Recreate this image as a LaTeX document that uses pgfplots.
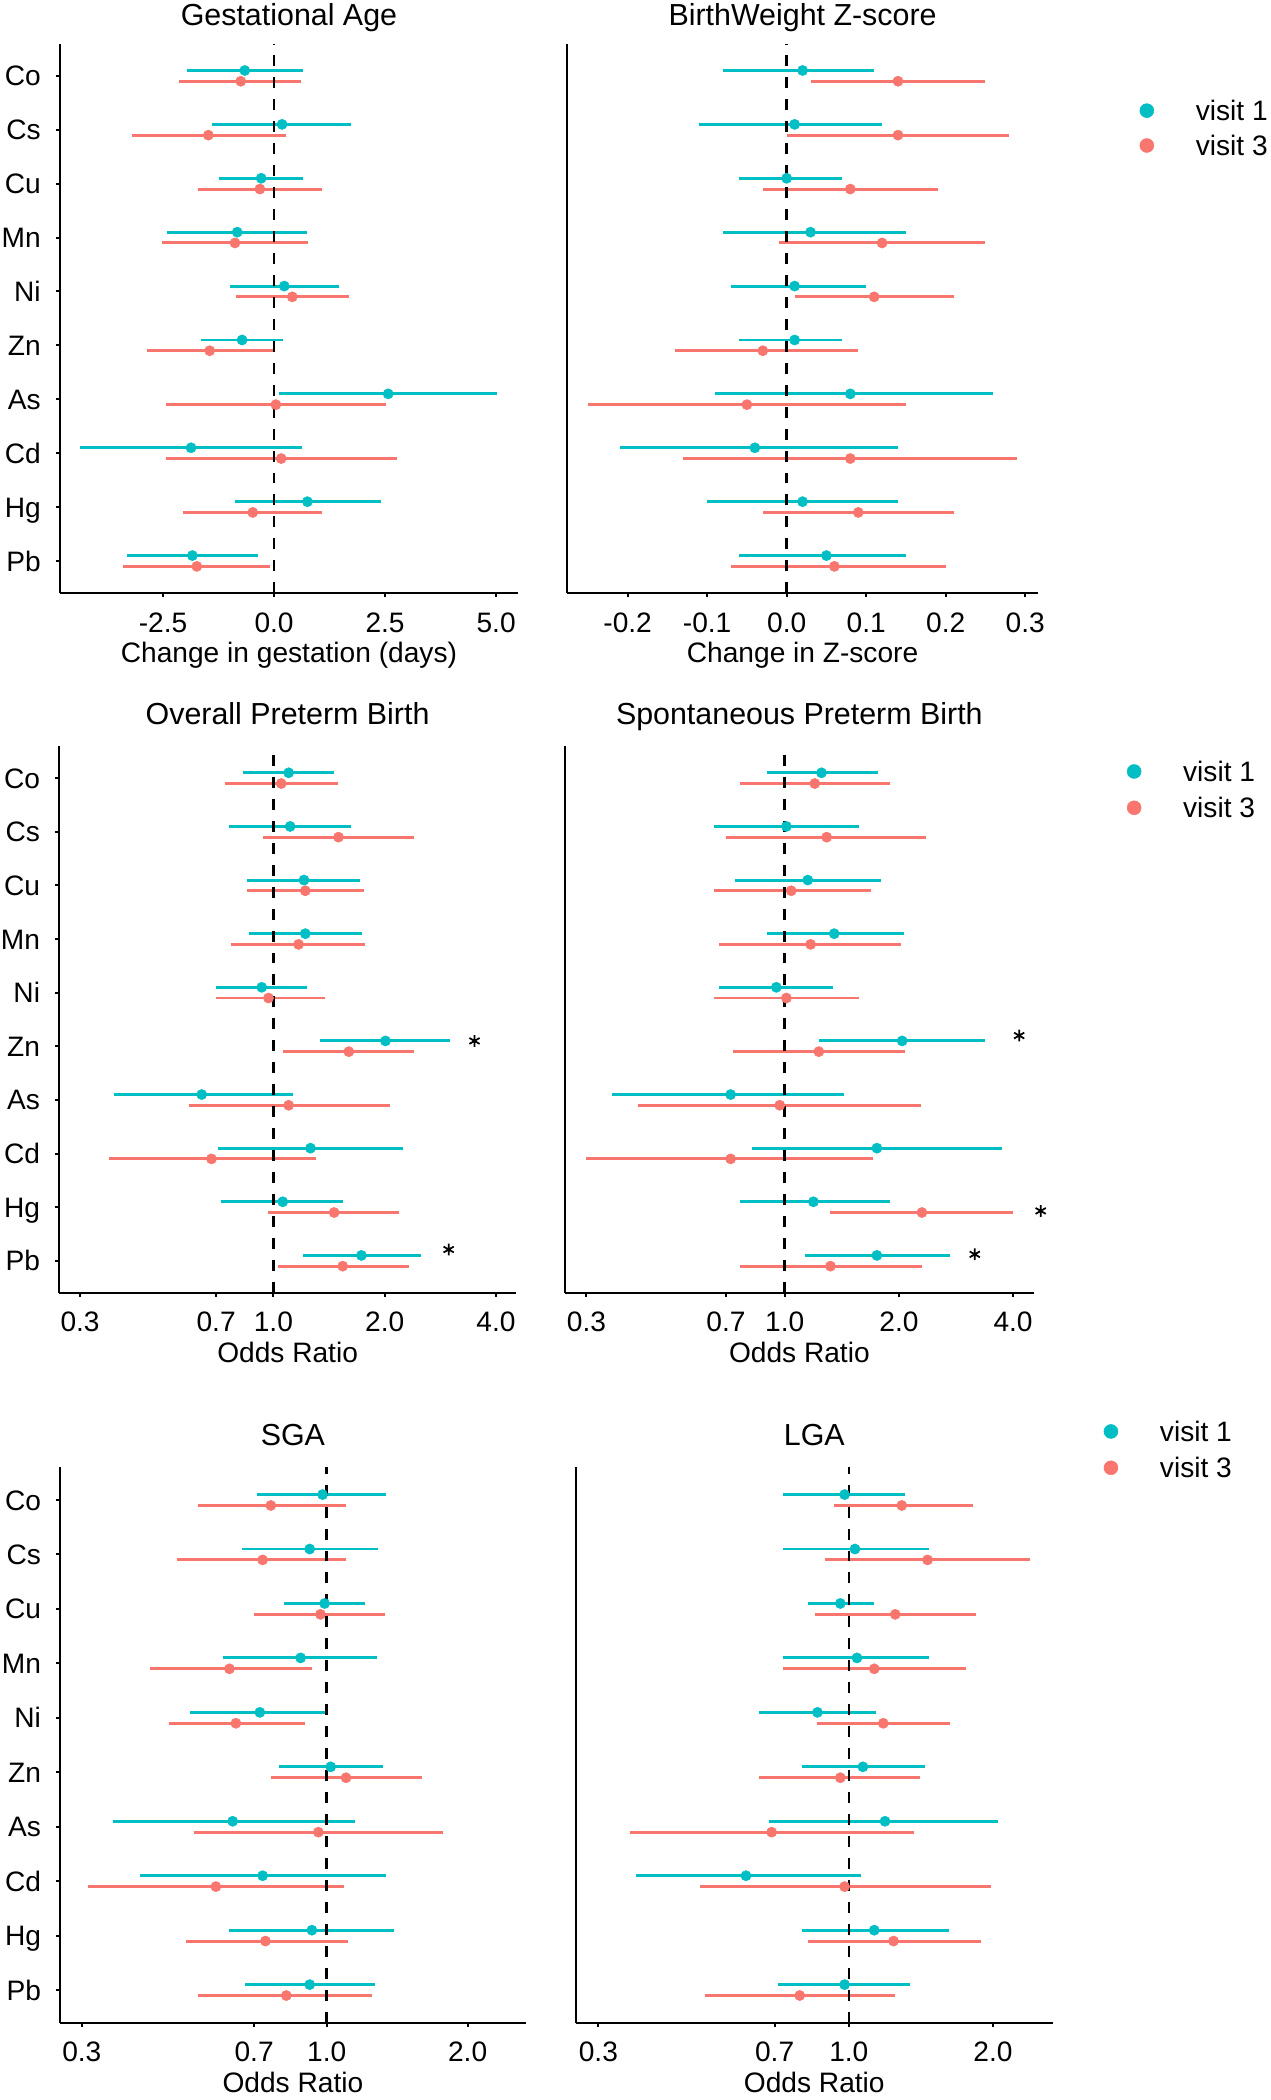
\documentclass[border=0pt]{standalone}
\usepackage{pgfplots}
\pgfplotsset{compat=1.18}
\usepackage{pgfplotstable}
\usepackage{fontspec}
\setmainfont{Liberation Sans}
\definecolor{cone}{HTML}{00BFC4}
\definecolor{cthree}{HTML}{F8766D}

% columns: row v1 v1lo v1hi v3 v3lo v3hi   (row 10 = Co ... row 1 = Pb)
\pgfplotstableread{
row v1 v1lo v1hi v3 v3lo v3hi
10 -0.66 -1.97 0.65 -0.75 -2.14 0.61
9 0.18 -1.40 1.73 -1.48 -3.20 0.26
8 -0.29 -1.24 0.65 -0.32 -1.72 1.09
7 -0.83 -2.41 0.75 -0.88 -2.53 0.76
6 0.23 -1.00 1.46 0.41 -0.86 1.69
5 -0.72 -1.64 0.19 -1.45 -2.86 0.02
4 2.57 0.11 5.03 0.04 -2.44 2.51
3 -1.87 -4.36 0.64 0.16 -2.43 2.76
2 0.75 -0.89 2.40 -0.48 -2.05 1.07
1 -1.84 -3.32 -0.37 -1.74 -3.40 -0.10
}\tabGA
\pgfplotstableread{
row v1 v1lo v1hi v3 v3lo v3hi
10 0.02 -0.08 0.11 0.14 0.03 0.25
9 0.01 -0.11 0.12 0.14 0.00 0.28
8 0.00 -0.06 0.07 0.08 -0.03 0.19
7 0.03 -0.08 0.15 0.12 -0.01 0.25
6 0.01 -0.07 0.10 0.11 0.01 0.21
5 0.01 -0.06 0.07 -0.03 -0.14 0.09
4 0.08 -0.09 0.26 -0.05 -0.25 0.15
3 -0.04 -0.21 0.14 0.08 -0.13 0.29
2 0.02 -0.10 0.14 0.09 -0.03 0.21
1 0.05 -0.06 0.15 0.06 -0.07 0.20
}\tabBW
\pgfplotstableread{
row v1 v1lo v1hi v3 v3lo v3hi
10 1.10 0.83 1.46 1.05 0.74 1.50
9 1.11 0.76 1.62 1.50 0.94 2.40
8 1.21 0.85 1.72 1.22 0.85 1.76
7 1.22 0.86 1.74 1.17 0.77 1.77
6 0.93 0.70 1.23 0.97 0.70 1.38
5 2.01 1.34 3.00 1.60 1.06 2.40
4 0.64 0.37 1.13 1.10 0.59 2.07
3 1.26 0.71 2.24 0.68 0.36 1.30
2 1.06 0.72 1.54 1.46 0.97 2.19
1 1.73 1.20 2.50 1.54 1.03 2.32
}\tabPTB
\pgfplotstableread{
row v1 v1lo v1hi v3 v3lo v3hi
10 1.25 0.90 1.76 1.20 0.76 1.90
9 1.01 0.65 1.57 1.29 0.70 2.36
8 1.15 0.74 1.79 1.04 0.65 1.69
7 1.35 0.90 2.06 1.17 0.67 2.02
6 0.95 0.67 1.34 1.01 0.65 1.57
5 2.04 1.23 3.38 1.23 0.73 2.08
4 0.72 0.35 1.43 0.97 0.41 2.29
3 1.75 0.82 3.75 0.72 0.30 1.71
2 1.19 0.76 1.89 2.30 1.32 4.01
1 1.75 1.13 2.72 1.32 0.76 2.30
}\tabSPTB
\pgfplotstableread{
row v1 v1lo v1hi v3 v3lo v3hi
10 0.98 0.71 1.34 0.76 0.53 1.10
9 0.92 0.66 1.29 0.73 0.48 1.10
8 0.99 0.81 1.21 0.97 0.70 1.33
7 0.88 0.60 1.28 0.62 0.42 0.93
6 0.72 0.51 1.00 0.64 0.46 0.90
5 1.02 0.79 1.32 1.10 0.76 1.60
4 0.63 0.35 1.15 0.96 0.52 1.77
3 0.73 0.40 1.34 0.58 0.31 1.09
2 0.93 0.62 1.39 0.74 0.50 1.11
1 0.92 0.67 1.27 0.82 0.53 1.25
}\tabSGA
\pgfplotstableread{
row v1 v1lo v1hi v3 v3lo v3hi
10 0.98 0.73 1.31 1.29 0.93 1.82
9 1.03 0.73 1.47 1.46 0.89 2.39
8 0.96 0.82 1.13 1.25 0.85 1.84
7 1.04 0.73 1.47 1.13 0.73 1.76
6 0.86 0.65 1.14 1.18 0.86 1.63
5 1.07 0.80 1.44 0.96 0.65 1.41
4 1.19 0.68 2.05 0.69 0.35 1.37
3 0.61 0.36 1.06 0.98 0.49 1.98
2 1.13 0.80 1.62 1.24 0.82 1.89
1 0.98 0.71 1.34 0.79 0.50 1.25
}\tabLGA
% significance stars: x (odds ratio), y (row position)
\pgfplotstableread{
x y
3.50 5.10
2.98 1.21
}\starPTB
\pgfplotstableread{
x y
4.15 5.20
4.73 1.93
3.17 1.12
}\starSPTB

\newcommand{\fticks}{\fontsize{21}{25}\selectfont}
\newcommand{\ftitle}{\fontsize{22.7}{27}\selectfont}

\pgfplotsset{
  forest/.style={
    scale only axis, clip=false,
    axis x line*=bottom, axis y line*=left,
    axis line style={line width=1.5pt, black, -},
    every tick/.style={line width=1.5pt, black},
    tick align=outside, major tick length=3pt,
    ymin=0.4, ymax=10.6, ytick={1,...,10},
    yticklabels={Pb,Hg,Cd,As,Zn,Ni,Mn,Cu,Cs,Co},
    tick label style={font=\fticks, inner sep=0pt},
    xticklabel style={anchor=base, yshift=-26.1pt},
    yticklabel style={anchor=base east, xshift=-10.9pt, yshift=-7.5pt},
    label style={font=\fticks, inner sep=0pt},
    xlabel style={at={(0.5,0)}, anchor=base, yshift=-51.8pt},
    every axis title/.style={font=\ftitle, inner sep=0pt, at={(0.5,1)}, anchor=base, yshift=16pt},
    error bars/x dir=both, error bars/x explicit,
    error bars/error mark=none,
    error bars/error bar style={line width=2.2pt, solid},
  },
  noy/.style={ytick=\empty, yticklabels={}},
  vleg/.style={
    legend style={draw=none, fill=none, inner sep=0pt, outer sep=0pt,
      row sep=10.4pt, anchor=north west,
      /tikz/every odd column/.append style={column sep=31.2pt},
      nodes={inner sep=0pt, anchor=base west, font=\fticks}},
    legend cell align=left,
  },
}
\newcommand{\linseries}[1]{%
  \addplot[forget plot, cthree, only marks, mark=*, mark size=3.8pt]
    table[x=v3, y expr=\thisrow{row}-0.1,
      x error plus expr=\thisrow{v3hi}-\thisrow{v3},
      x error minus expr=\thisrow{v3}-\thisrow{v3lo}] {#1};
  \addplot[forget plot, cone, only marks, mark=*, mark size=3.8pt]
    table[x=v1, y expr=\thisrow{row}+0.1,
      x error plus expr=\thisrow{v1hi}-\thisrow{v1},
      x error minus expr=\thisrow{v1}-\thisrow{v1lo}] {#1};
}
\newcommand{\logseries}[1]{%
  \addplot[forget plot, cthree, only marks, mark=*, mark size=3.8pt]
    table[x expr=ln(\thisrow{v3}), y expr=\thisrow{row}-0.1,
      x error plus expr=ln(\thisrow{v3hi})-ln(\thisrow{v3}),
      x error minus expr=ln(\thisrow{v3})-ln(\thisrow{v3lo})] {#1};
  \addplot[forget plot, cone, only marks, mark=*, mark size=3.8pt]
    table[x expr=ln(\thisrow{v1}), y expr=\thisrow{row}+0.1,
      x error plus expr=ln(\thisrow{v1hi})-ln(\thisrow{v1}),
      x error minus expr=ln(\thisrow{v1})-ln(\thisrow{v1lo})] {#1};
}
\newcommand{\refline}[1]{%
  \addplot[forget plot, black, line width=1.9pt, dash pattern=on 8.2pt off 8.2pt]
    coordinates {(#1,0.4) (#1,10.6)};
}
\newcommand{\legimgs}{%
  \addlegendimage{cone, legend image code/.code={\fill (0pt,7.5pt) circle (5.2pt);}}
  \addlegendentry{visit 1}
  \addlegendimage{cthree, legend image code/.code={\fill (0pt,7.5pt) circle (5.2pt);}}
  \addlegendentry{visit 3}
}

\begin{document}
\begin{tikzpicture}
\path[use as bounding box] (0pt,0pt) rectangle (949pt,-1568pt);

% ---------- Row 1 ----------
\begin{axis}[forest, at={(44.5pt,-443pt)}, anchor=south west,
  width=342.5pt, height=410.5pt,
  xmin=-4.83, xmax=5.50, xtick={-2.5,0,2.5,5},
  xticklabels={-2.5,0.0,2.5,5.0},
  title style={yshift=-2.2pt},
  title={Gestational Age}, xlabel={Change in gestation (days)}]
  \linseries{\tabGA}
  \refline{0}
\end{axis}
\begin{axis}[forest, noy, vleg, at={(423.5pt,-443pt)}, anchor=south west,
  width=351.5pt, height=410.5pt,
  xmin=-0.276, xmax=0.316, xtick={-0.2,-0.1,0,0.1,0.2,0.3},
  xticklabels={-0.2,-0.1,0.0,0.1,0.2,0.3},
  title style={yshift=-2.2pt},
  title={BirthWeight Z-score}, xlabel={Change in Z-score},
  legend style={at={(1.2159,0.8967)}, row sep=9.3pt}]
  \linseries{\tabBW}
  \refline{0}
  \legimgs
\end{axis}

% ---------- Row 2 ----------
\begin{axis}[forest, at={(44pt,-965.4pt)}, anchor=south west,
  width=341.5pt, height=408.4pt,
  xmin=-1.3356, xmax=1.5129,
  xtick={-1.20397,-0.35667,0,0.69315,1.38629},
  xticklabels={0.3,0.7,1.0,2.0,4.0},
  title={Overall Preterm Birth}, xlabel={Odds Ratio}]
  \logseries{\tabPTB}
  \refline{0}
  \addplot[forget plot, black, only marks, mark=asterisk, mark size=4.4pt,
    mark options={line width=1.3pt}] table[x expr=ln(\thisrow{x}), y=y] {\starPTB};
\end{axis}
\begin{axis}[forest, noy, vleg, at={(421.7pt,-965.4pt)}, anchor=south west,
  width=350.3pt, height=408.4pt,
  xmin=-1.3356, xmax=1.5129,
  xtick={-1.20397,-0.35667,0,0.69315,1.38629},
  xticklabels={0.3,0.7,1.0,2.0,4.0},
  title={Spontaneous Preterm Birth}, xlabel={Odds Ratio},
  legend style={at={(1.1982,0.9723)}}]
  \logseries{\tabSPTB}
  \refline{0}
  \addplot[forget plot, black, only marks, mark=asterisk, mark size=4.4pt,
    mark options={line width=1.3pt}] table[x expr=ln(\thisrow{x}), y=y] {\starSPTB};
  \legimgs
\end{axis}

% ---------- Row 3 ----------
\begin{axis}[forest, at={(44.7pt,-1510.3pt)}, anchor=south west,
  width=348pt, height=414.7pt,
  xmin=-1.312, xmax=0.980,
  xtick={-1.20397,-0.35667,0,0.69315},
  xticklabels={0.3,0.7,1.0,2.0},
  title={SGA}, xlabel={Odds Ratio}]
  \logseries{\tabSGA}
  \refline{0}
\end{axis}
\begin{axis}[forest, noy, vleg, at={(430pt,-1510.3pt)}, anchor=south west,
  width=356pt, height=414.7pt,
  xmin=-1.312, xmax=0.980,
  xtick={-1.20397,-0.35667,0,0.69315},
  xticklabels={0.3,0.7,1.0,2.0},
  title={LGA}, xlabel={Odds Ratio},
  legend style={at={(1.1070,1.0832)}}]
  \logseries{\tabLGA}
  \refline{0}
  \legimgs
\end{axis}
\end{tikzpicture}
\end{document}
